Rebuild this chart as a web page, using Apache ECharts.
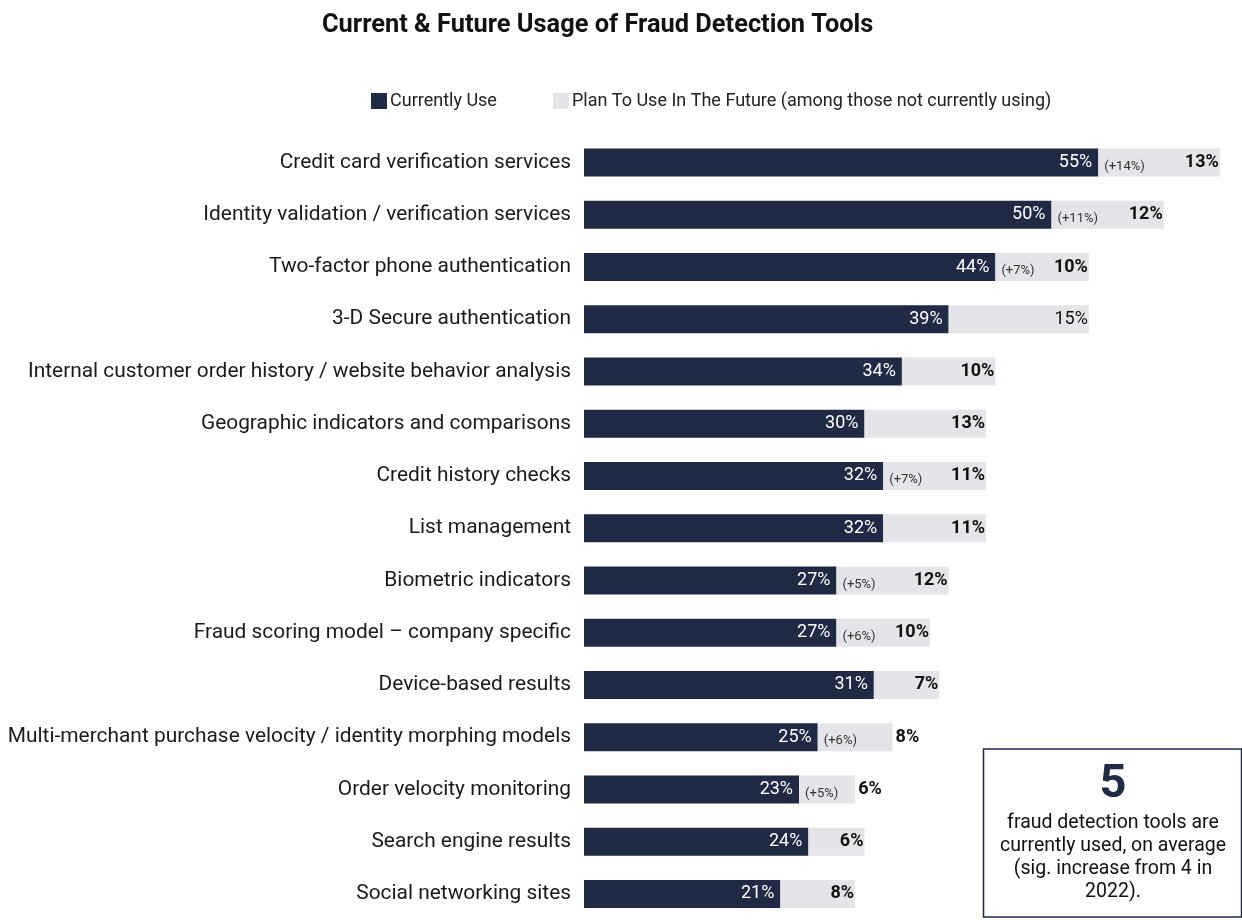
<!DOCTYPE html>
<html>
<head>
<meta charset="utf-8">
<script src="https://cdn.jsdelivr.net/npm/echarts@6/dist/echarts.min.js"></script>
<style>html,body{margin:0;padding:0;background:#fff}#c{width:1242px;height:920px}</style>
</head>
<body>
<div id="c"></div>
<script>
const categories = [
  "Credit card verification services",
  "Identity validation / verification services",
  "Two-factor phone authentication",
  "3-D Secure authentication",
  "Internal customer order history / website behavior analysis",
  "Geographic indicators and comparisons",
  "Credit history checks",
  "List management",
  "Biometric indicators",
  "Fraud scoring model \u2013 company specific",
  "Device-based results",
  "Multi-merchant purchase velocity / identity morphing models",
  "Order velocity monitoring",
  "Search engine results",
  "Social networking sites"
];
const currentUse = [55, 50, 44, 39, 34, 30, 32, 32, 27, 27, 31, 25, 23, 24, 21];
const futureUse  = [13, 12, 10, 15, 10, 13, 11, 11, 12, 10, 7, 8, 6, 6, 8];
const increase   = [14, 11, 7, null, null, null, 7, null, 5, 6, null, 6, 5, null, null];
const futureBold = [true, true, true, false, true, true, true, true, true, true, true, true, true, true, true];
const legendNames = ["Currently Use", "Plan To Use In The Future (among those not currently using)"];
const calloutNumber = "5";
const calloutLines = ["fraud detection tools are", "currently used, on average", "(sig. increase from 4 in", "2022)."];

const DARK = '#212a45', LIGHT = '#e4e4e9';
const FONT = 'Roboto, "Liberation Sans", sans-serif';

const chart = echarts.init(document.getElementById('c'), null, {renderer: 'canvas'});

const futureData = futureUse.map((v, i) => {
  const outside = v < 9 && increase[i] != null;
  return {
    value: v,
    label: {
      position: outside ? 'right' : 'insideRight',
      offset: outside ? [-2, 0] : [4, 0],
      fontWeight: futureBold[i] ? 'bold' : 'normal'
    }
  };
});

chart.setOption({
  animation: false,
  textStyle: {fontFamily: FONT},
  title: {
    text: 'Current & Future Usage of Fraud Detection Tools',
    left: 317, top: 8,
    textStyle: {fontFamily: FONT, fontSize: 25.4, fontWeight: 'bold', color: '#111'}
  },
  legend: {
    data: legendNames,
    left: 366, top: 87,
    itemWidth: 16, itemHeight: 16, itemGap: 56,
    icon: 'rect',
    textStyle: {fontFamily: FONT, fontSize: 18, color: '#222', padding: [0, 0, 0, -2]}
  },
  grid: {left: 584, top: 136.4, height: 797.1, right: 3.5, containLabel: false},
  xAxis: {
    type: 'value', min: 0, max: 70, show: false
  },
  yAxis: {
    type: 'category', data: categories, inverse: true,
    axisLine: {show: false}, axisTick: {show: false},
    axisLabel: {fontFamily: FONT, fontSize: 20.9, color: '#1a1a1a', margin: 13}
  },
  series: [
    {
      name: legendNames[0], type: 'bar', stack: 's', barWidth: 28,
      itemStyle: {color: DARK},
      label: {show: true, position: 'insideRight', formatter: '{c}%', color: '#fff',
              fontFamily: FONT, fontSize: 18, offset: [-1, 0]},
      data: currentUse
    },
    {
      name: 'annotation', type: 'bar', stack: 's', barWidth: 28,
      itemStyle: {color: 'transparent'},
      silent: true,
      label: {show: true, position: 'right', distance: 6, offset: [0, 4],
              color: '#333', fontFamily: FONT, fontSize: 13,
              formatter: p => increase[p.dataIndex] != null ? '(+' + increase[p.dataIndex] + '%)' : ''},
      data: currentUse.map(() => 0)
    },
    {
      name: legendNames[1], type: 'bar', stack: 's', barWidth: 28,
      itemStyle: {color: LIGHT},
      label: {show: true, formatter: '{c}%', color: '#111', fontFamily: FONT, fontSize: 18},
      data: futureData
    }
  ],
  graphic: [
    {type: 'rect', shape: {x: 983.5, y: 749, width: 258, height: 168},
     style: {fill: '#fff', stroke: DARK, lineWidth: 1.5}},
    {type: 'text', x: 1113, y: 785,
     style: {text: calloutNumber, fill: DARK, font: 'bold 47px ' + FONT, textAlign: 'center', textVerticalAlign: 'middle'}},
    {type: 'text', x: 1113, y: 858,
     style: {text: calloutLines.join('\n'), fill: '#111', font: '19.5px ' + FONT, lineHeight: 23,
             textAlign: 'center', textVerticalAlign: 'middle'}}
  ]
});
</script>
</body>
</html>
